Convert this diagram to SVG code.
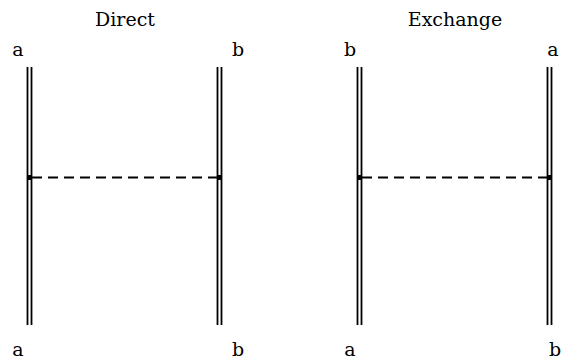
<svg xmlns="http://www.w3.org/2000/svg" width="574" height="360" viewBox="0 0 574 360">
<style>
text{font-family:"DejaVu Serif",serif;font-size:19px;fill:#000;text-anchor:middle}
.l{stroke:#000;stroke-width:1.8;fill:none}
.d{stroke:#000;stroke-width:2;stroke-dasharray:10 6;fill:none}
</style>
<rect width="574" height="360" fill="#fff"/>
<text x="125" y="26">Direct</text>
<text x="455" y="26">Exchange</text>
<g id="direct-a">
<line class="l" x1="27.5" y1="67" x2="27.5" y2="325"/>
<line class="l" x1="31.5" y1="67" x2="31.5" y2="325"/>
<rect x="27" y="175" width="5" height="5"/>
<text x="18" y="56">a</text>
<text x="18" y="356">a</text>
</g>
<g id="direct-b">
<line class="l" x1="217.5" y1="67" x2="217.5" y2="325"/>
<line class="l" x1="221.5" y1="67" x2="221.5" y2="325"/>
<rect x="217" y="175" width="5" height="5"/>
<text x="238" y="56">b</text>
<text x="238" y="356">b</text>
</g>
<g id="exchange-b">
<line class="l" x1="357.5" y1="67" x2="357.5" y2="325"/>
<line class="l" x1="361.5" y1="67" x2="361.5" y2="325"/>
<rect x="357" y="175" width="5" height="5"/>
<text x="350" y="56">b</text>
<text x="350" y="356">a</text>
</g>
<g id="exchange-a">
<line class="l" x1="547.5" y1="67" x2="547.5" y2="325"/>
<line class="l" x1="551.5" y1="67" x2="551.5" y2="325"/>
<rect x="547" y="175" width="5" height="5"/>
<text x="553" y="56">a</text>
<text x="555" y="356">b</text>
</g>
<g id="connectors">
<line class="d" x1="32" y1="177.5" x2="217" y2="177.5"/>
<line class="d" x1="362" y1="177.5" x2="547" y2="177.5"/>
</g>
</svg>
